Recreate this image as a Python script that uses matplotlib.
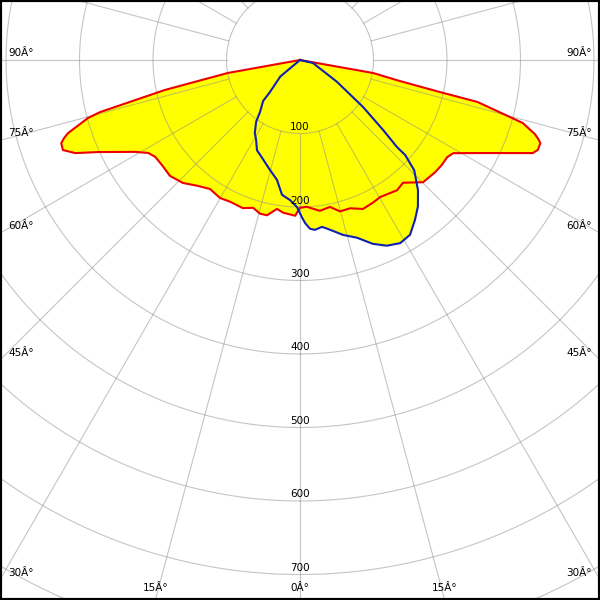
import matplotlib
matplotlib.use("Agg")
import matplotlib.pyplot as plt
import numpy as np

# luminous intensity curves, gamma in deg (0 = nadir, negative = left side), values in cd
# red: C0-C180 plane
red_gamma = [-90, -79.8, -77.5, -75.4, -74.7, -72.5, -71.7, -70.8, -69.2, -67.5, -65.5,
             -60.9, -58.5, -56.2, -52.7, -48.3, -43.6, -39.3, -34.9, -30.1, -26.2,
             -21.1, -17.6, -14.6, -12.0, -8.8, -6.3, -1.8, 0, 2.7, 7.5,
             11.5, 14.8, 18.7, 22.9, 27.0, 30.3, 36.7, 40.0, 45.2, 50.3,
             53.5, 56.6, 58.7, 62.7, 68.2, 69.3, 70.9, 71.6, 72.5, 74.2, 74.8, 76.7,
             77.1, 78.1, 79.9, 90]
red_cd = [0, 100, 188, 281, 299, 331, 338, 344, 345, 331, 302,
          257, 242, 237, 236, 237, 231, 221, 214, 217, 215,
          216, 211, 216, 216, 205, 209, 212, 201, 200, 207,
          204, 213, 213, 220, 218, 216, 221, 218, 236, 239,
          240, 240, 244, 276, 341, 346, 346, 342, 335, 315, 296, 248,
          195, 139, 101, 0]
# blue: C90-C270 plane
blue_gamma = [-90, -50, -43, -42, -37.6, -35.4, -31.7, -28.8, -25.5, -22.8,
              -15.3, -10.9, -7.6, -4.1, -1.2, 0.7, 1.8, 3.4, 5.0, 7.5,
              9.4, 13.8, 17.8, 21.6, 25.1, 28.7, 32.2, 35.7, 38.8, 42.2,
              46.0, 47.9, 48.1, 49.9, 53.3, 59.5, 77, 90]
blue_cd = [0, 35, 61, 75, 89, 103, 117, 124, 136, 140,
           155, 166, 185, 191, 200, 214, 222, 230, 232, 229,
           233, 245, 254, 269, 279, 284, 281, 268, 256, 239,
           216, 193, 177, 148, 107, 58, 18, 0]

rings = [100, 200, 300, 400, 500, 600, 700, 800, 900]
ring_labels = ["100", "200", "300", "400", "500", "600", "700"]
angle_ticks = [0, 15, 30, 45, 60, 75, 90]

PX = 0.735          # pixels per cd
W, H = 600, 600
CX, CY = 300, 60    # pole position in pixels


def xy(gamma, cd):
    g = np.radians(np.asarray(gamma, float))
    cd = np.asarray(cd, float)
    return cd * np.sin(g), -cd * np.cos(g)


def px2data(xp, yp):
    return (xp - CX) / PX, -(yp - CY) / PX


fig = plt.figure(figsize=(6, 6), dpi=100)
ax = fig.add_axes([0, 0, 1, 1])
ax.set_xlim(-CX / PX, (W - CX) / PX)
ax.set_ylim(-(H - CY) / PX, CY / PX)
ax.set_xticks([]); ax.set_yticks([])
for s in ax.spines.values():
    s.set_linewidth(3); s.set_color("black")

# fills
for g, c in ((red_gamma, red_cd), (blue_gamma, blue_cd)):
    x, y = xy(g, c)
    ax.fill(x, y, color="#ffff00", lw=0, zorder=1)

# grid
grid_kw = dict(color="#8c8c8c", lw=0.8, alpha=0.5, zorder=2)
t = np.linspace(0, 360, 721)
for r in rings:
    x, y = xy(t, np.full_like(t, r))
    ax.plot(x, y, **grid_kw)
for a in range(0, 360, 15):
    x, y = xy([a, a], [100, 1100])
    ax.plot(x, y, **grid_kw)

# curves
x, y = xy(red_gamma, red_cd)
ax.plot(x, y, color="#ee0000", lw=1.5, zorder=3, solid_joinstyle="round")
x, y = xy(blue_gamma, blue_cd)
ax.plot(x, y, color="#1020b0", lw=1.5, zorder=4, solid_joinstyle="round")

# ring labels
for lab in ring_labels:
    r = float(lab)
    ax.text(*px2data(CX, CY + r * PX - 6.5), lab, ha="center", va="center",
            fontsize=7.5, zorder=5)

# angle labels where the spokes leave the frame
for a in angle_ticks:
    sides = (1,) if a == 0 else (-1, 1)
    for sd in sides:
        ra = np.radians(a)
        t_side = (W - CX) / np.sin(ra) if a else np.inf
        t_bot = (H - CY) / np.cos(ra) if a != 90 else np.inf
        lab = f"{a}Â°"
        if t_side < t_bot:
            yp = CY + (W - CX) / np.tan(ra) - 7
            xp = 8 if sd < 0 else W - 8
            ha = "left" if sd < 0 else "right"
        else:
            xp = CX + sd * (H - CY) * np.tan(ra)
            yp = H - 12
            ha = "center"
        ax.text(*px2data(xp, yp), lab, ha=ha, va="center", fontsize=7.5, zorder=5)

fig.savefig("out.png", dpi=100)
